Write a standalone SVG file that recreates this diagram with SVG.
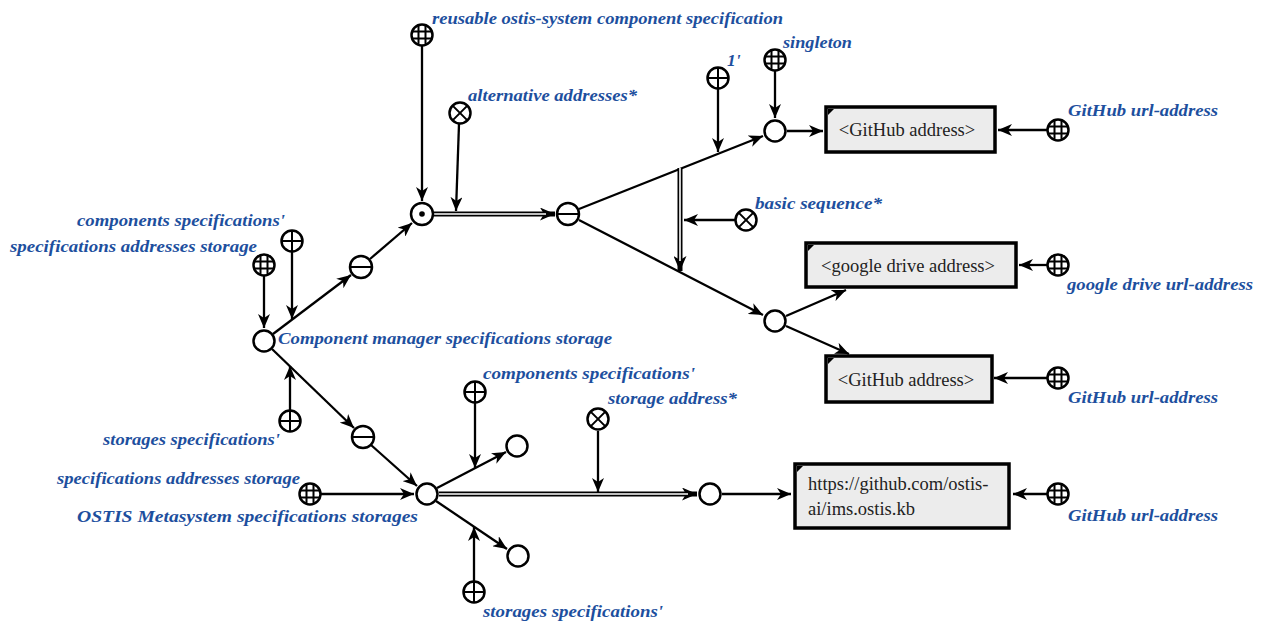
<svg xmlns="http://www.w3.org/2000/svg" xmlns:xlink="http://www.w3.org/1999/xlink" width="1261" height="622" viewBox="0 0 1261 622">
<style>
.lbl{font-family:"Liberation Serif","Times New Roman",serif;font-weight:bold;font-style:italic;font-size:17.5px;fill:#1d4f9e}
.box{fill:#ececec;stroke:#000;stroke-width:3.5}
.btxt{font-family:"Liberation Serif","Times New Roman",serif;font-size:18.5px;fill:#222}
.e{stroke:#000;stroke-width:2.3;fill:none;marker-end:url(#ah)}
.dbl{stroke:#000;stroke-width:5;fill:none;marker-end:url(#ah2)}
.dbli{stroke:#fff;stroke-width:1.6;fill:none}
.nd{fill:#fff;stroke:#000;stroke-width:2.5}
.nl{stroke:#000;stroke-width:2;fill:none}
</style>
<defs>
<marker id="ah" markerUnits="userSpaceOnUse" markerWidth="15" markerHeight="12" refX="14" refY="6" orient="auto">
<path d="M0,0 L14,6 L0,12 L4,6 z" fill="#000"/>
</marker>
<marker id="ah2" markerUnits="userSpaceOnUse" markerWidth="16" markerHeight="13" refX="15" refY="6.5" orient="auto">
<path d="M0,0 L15,6.5 L0,13 L4,6.5 z" fill="#000"/>
</marker>
<g id="grid"><circle class="nd" r="10.5"/><path class="nl" d="M-3.5,-9.8V9.8M3.5,-9.8V9.8M-9.8,-3.5H9.8M-9.8,3.5H9.8"/></g>
<g id="plus"><circle class="nd" r="10.5"/><path class="nl" d="M0,-10.5V10.5M-10.5,0H10.5"/></g>
<g id="cross"><circle class="nd" r="10.5"/><path class="nl" d="M-7.4,-7.4L7.4,7.4M-7.4,7.4L7.4,-7.4"/></g>
<g id="minus"><circle class="nd" r="11"/><path class="nl" d="M-11,0H11"/></g>
<g id="dotc"><circle class="nd" r="11"/><circle r="2.8" fill="#000"/></g>
<g id="plain"><circle class="nd" r="10.5"/></g>
<path id="ear" d="M0,0 h6 l-6,6 z" fill="#000"/>
</defs>

<g id="connectors">
<line class="e" x1="422" y1="46" x2="422" y2="201"/>
<line class="e" x1="459" y1="124" x2="456" y2="211"/>
<line class="dbl" x1="434" y1="214" x2="555" y2="214"/>
<line class="dbli" x1="434" y1="214" x2="546" y2="214"/>
<line class="e" x1="579" y1="209" x2="763" y2="136"/>
<line class="e" x1="579" y1="220" x2="763" y2="315"/>
<line class="e" x1="718" y1="89" x2="718" y2="152"/>
<line class="e" x1="775" y1="71" x2="775" y2="118"/>
<line class="e" x1="787" y1="131" x2="823" y2="131"/>
<line class="e" x1="1047" y1="130" x2="998" y2="130"/>
<line class="e" x1="735" y1="220" x2="684" y2="220"/>
<line class="dbl" x1="680" y1="168" x2="680" y2="271"/>
<line class="dbli" x1="680" y1="168" x2="680" y2="261"/>
<line class="e" x1="786" y1="316" x2="846" y2="290"/>
<line class="e" x1="786" y1="326" x2="849" y2="354"/>
<line class="e" x1="1047" y1="265" x2="1019" y2="265"/>
<line class="e" x1="1047" y1="378" x2="994" y2="378"/>
<line class="e" x1="273" y1="334" x2="351" y2="275"/>
<line class="e" x1="370" y1="259" x2="412" y2="223"/>
<line class="e" x1="264" y1="276" x2="264" y2="328"/>
<line class="e" x1="292" y1="252" x2="292" y2="319"/>
<line class="e" x1="272" y1="349" x2="354" y2="428"/>
<line class="e" x1="290" y1="410" x2="290" y2="366"/>
<line class="e" x1="371" y1="445" x2="417" y2="486"/>
<line class="e" x1="321" y1="494" x2="414" y2="494"/>
<line class="e" x1="437" y1="488" x2="506" y2="452"/>
<line class="e" x1="475" y1="403" x2="475" y2="468"/>
<line class="e" x1="436" y1="501" x2="507" y2="549"/>
<line class="e" x1="474" y1="581" x2="474" y2="527"/>
<line class="dbl" x1="439" y1="494" x2="697" y2="494"/>
<line class="dbli" x1="439" y1="494" x2="688" y2="494"/>
<line class="e" x1="598" y1="431" x2="598" y2="492"/>
<line class="e" x1="722" y1="494" x2="791" y2="494"/>
<line class="e" x1="1047" y1="494" x2="1013" y2="494"/>
</g>

<g id="n_reusable"><use xlink:href="#grid" x="422" y="35"/><text class="lbl" x="432" y="24" textLength="351" lengthAdjust="spacingAndGlyphs">reusable ostis-system component specification</text></g>
<g id="n_altaddr"><use xlink:href="#cross" x="460" y="113"/><text class="lbl" x="468" y="101" textLength="169" lengthAdjust="spacingAndGlyphs">alternative addresses*</text></g>
<g id="n_spec"><use xlink:href="#dotc" x="422" y="214"/></g>
<g id="n_tuple1"><use xlink:href="#minus" x="568" y="214"/></g>
<g id="n_one"><use xlink:href="#plus" x="718" y="78"/><text class="lbl" x="727" y="66">1'</text></g>
<g id="n_singleton"><use xlink:href="#grid" x="775" y="60"/><text class="lbl" x="783" y="48" textLength="69" lengthAdjust="spacingAndGlyphs">singleton</text></g>
<g id="n_c1"><use xlink:href="#plain" x="775" y="131"/></g>
<g id="n_box1"><rect class="box" x="826" y="107" width="169" height="45"/><use xlink:href="#ear" x="828" y="109"/><text class="btxt" x="907" y="136" text-anchor="middle">&lt;GitHub address&gt;</text></g>
<g id="n_gh1"><use xlink:href="#grid" x="1058" y="130"/><text class="lbl" x="1068" y="116" textLength="150" lengthAdjust="spacingAndGlyphs">GitHub url-address</text></g>
<g id="n_basicseq"><use xlink:href="#cross" x="746" y="220"/><text class="lbl" x="755" y="209" textLength="127" lengthAdjust="spacingAndGlyphs">basic sequence*</text></g>
<g id="n_c2"><use xlink:href="#plain" x="775" y="321"/></g>
<g id="n_box2"><rect class="box" x="806" y="243" width="210" height="44"/><use xlink:href="#ear" x="808" y="245"/><text class="btxt" x="908" y="272" text-anchor="middle">&lt;google drive address&gt;</text></g>
<g id="n_gd"><use xlink:href="#grid" x="1058" y="265"/><text class="lbl" x="1067" y="290" textLength="186" lengthAdjust="spacingAndGlyphs">google drive url-address</text></g>
<g id="n_box3"><rect class="box" x="826" y="356" width="166" height="46"/><use xlink:href="#ear" x="828" y="358"/><text class="btxt" x="906" y="386" text-anchor="middle">&lt;GitHub address&gt;</text></g>
<g id="n_gh2"><use xlink:href="#grid" x="1058" y="378"/><text class="lbl" x="1068" y="403" textLength="150" lengthAdjust="spacingAndGlyphs">GitHub url-address</text></g>

<g id="n_cm"><use xlink:href="#plain" x="264" y="341"/><text class="lbl" x="278" y="344" textLength="334" lengthAdjust="spacingAndGlyphs">Component manager specifications storage</text></g>
<g id="n_sas1"><use xlink:href="#grid" x="264" y="265"/><text class="lbl" x="257" y="252" text-anchor="end" textLength="247" lengthAdjust="spacingAndGlyphs">specifications addresses storage</text></g>
<g id="n_cs1"><use xlink:href="#plus" x="292" y="241"/><text class="lbl" x="285" y="226" text-anchor="end" textLength="208" lengthAdjust="spacingAndGlyphs">components specifications'</text></g>
<g id="n_t2"><use xlink:href="#minus" x="361" y="267"/></g>
<g id="n_ss1"><use xlink:href="#plus" x="290" y="421"/><text class="lbl" x="280" y="445" text-anchor="end" textLength="177" lengthAdjust="spacingAndGlyphs">storages specifications'</text></g>
<g id="n_t3"><use xlink:href="#minus" x="363" y="437"/></g>
<g id="n_ostis"><use xlink:href="#plain" x="427" y="494"/><text class="lbl" x="418" y="522" text-anchor="end" textLength="341" lengthAdjust="spacingAndGlyphs">OSTIS Metasystem specifications storages</text></g>
<g id="n_sas2"><use xlink:href="#grid" x="310" y="494"/><text class="lbl" x="300" y="484" text-anchor="end" textLength="243" lengthAdjust="spacingAndGlyphs">specifications addresses storage</text></g>
<g id="n_cs2"><use xlink:href="#plus" x="475" y="392"/><text class="lbl" x="483" y="379" textLength="212" lengthAdjust="spacingAndGlyphs">components specifications'</text></g>
<g id="n_c3"><use xlink:href="#plain" x="517" y="446"/></g>
<g id="n_c4"><use xlink:href="#plain" x="518" y="556"/></g>
<g id="n_ss2"><use xlink:href="#plus" x="474" y="592"/><text class="lbl" x="483" y="617" textLength="180" lengthAdjust="spacingAndGlyphs">storages specifications'</text></g>
<g id="n_staddr"><use xlink:href="#cross" x="598" y="419"/><text class="lbl" x="608" y="404" textLength="129" lengthAdjust="spacingAndGlyphs">storage address*</text></g>
<g id="n_c5"><use xlink:href="#plain" x="710" y="494"/></g>
<g id="n_box4"><rect class="box" x="795" y="464" width="214" height="64"/><use xlink:href="#ear" x="797" y="466"/><text class="btxt" x="808" y="490">https://github.com/ostis-</text><text class="btxt" x="808" y="515">ai/ims.ostis.kb</text></g>
<g id="n_gh3"><use xlink:href="#grid" x="1058" y="494"/><text class="lbl" x="1068" y="521" textLength="150" lengthAdjust="spacingAndGlyphs">GitHub url-address</text></g>
</svg>
